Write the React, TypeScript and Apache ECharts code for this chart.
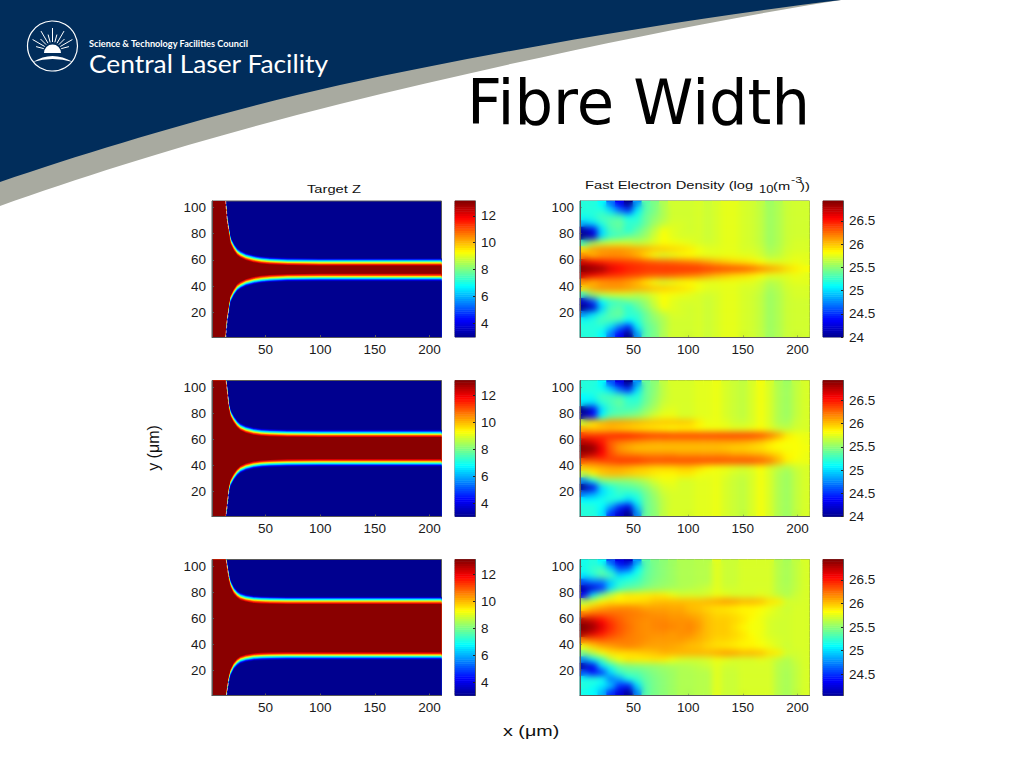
import React, { useEffect, useRef } from "react";
import * as echarts from "echarts";

const JET = ["#00008f", "#0000ff", "#0080ff", "#00ffff", "#80ff80", "#ffff00", "#ff8000", "#ff0000", "#800000"];
const FONT = "Liberation Sans";

// ---- Target Z panels: position of the fibre edge (z = 8 contour) ----
const edgeX = [1, 12.8, 13.5, 14.9, 16.4, 18, 21, 24, 27, 32, 39, 46, 54, 70, 100, 150, 211];
const upperEdge1 = [130, 130, 105, 91, 83, 75, 70, 66.5, 64.6, 62.6, 61, 60, 59.4, 58.8, 58.5, 58.5, 58.5];
const lowerEdge1 = [-25, -25, 0, 14, 22, 30, 35, 38.5, 40.4, 42.4, 44, 45, 45.6, 46.2, 46.5, 46.5, 46.5];
const upperEdge2 = [130, 130, 108, 98, 86, 80, 75.4, 72, 69.7, 67.8, 66.3, 65.5, 65.1, 64.7, 64.5, 64.5, 64.5];
const lowerEdge2 = [-23, -23, -1, 9, 20.6, 26.6, 31.2, 34.6, 36.9, 38.8, 40.3, 41.1, 41.5, 41.9, 42.1, 42.1, 42.1];
const upperEdge3 = [130, 130, 108, 100, 91.8, 86.5, 81.5, 78.7, 76.9, 75.6, 74.6, 74.2, 74, 73.8, 73.8, 73.8, 73.8];
const lowerEdge3 = [-25, -25, -3, 5, 13.2, 18.5, 23.5, 26.3, 28.1, 29.4, 30.4, 30.8, 31, 31.2, 31.2, 31.2, 31.2];
// Z across the edge: level of Z at each distance (µm) from the z = 8 contour
const profileZ = [3.4, 4.2, 5, 5.8, 6.6, 7.4, 8.2, 9, 9.8, 10.6, 11.4, 12.2, 13];
const profileOffset = [2.8, 2.2, 1.7, 1.3, 0.9, 0.4, 0, -0.4, -0.8, -1.2, -1.6, -2.2, -2.8];

// ---- Fast electron density panels (log10), rows from y = 103 down to y = 3 ----
const densityX = [5, 13, 21, 29, 37, 45, 53, 61, 69, 77, 85, 93, 101, 109, 117, 125, 133, 141, 149, 157, 165, 173, 181, 189, 197, 205];
const densityY = [103, 98, 93, 88, 83, 78, 73, 68, 63, 58, 53, 48, 43, 38, 33, 28, 23, 18, 13, 8, 3];
const densityA = [
  [25.2,25.2,25.1,24.7,24.35,24,24.8,25.35,25.45,25.6,25.7,25.7,25.7,25.72,25.68,25.72,25.76,25.76,25.72,25.7,25.65,25.55,25.6,25.68,25.7,25.7],
  [25.2,25.2,25.2,25,24.7,24.5,25.05,25.35,25.45,25.6,25.7,25.7,25.7,25.72,25.68,25.72,25.76,25.76,25.72,25.7,25.65,25.55,25.6,25.68,25.7,25.7],
  [25.15,25.2,25.3,25.3,25.3,25.15,25.2,25.4,25.5,25.6,25.7,25.7,25.7,25.72,25.68,25.72,25.76,25.76,25.72,25.7,25.65,25.55,25.6,25.68,25.7,25.7],
  [24.9,25,25.2,25.35,25.4,25.25,25.25,25.4,25.55,25.65,25.72,25.72,25.7,25.72,25.68,25.72,25.76,25.76,25.72,25.7,25.65,25.55,25.6,25.68,25.7,25.7],
  [24.1,24.3,25,25.3,25.35,25.2,25.35,25.5,25.65,25.8,25.75,25.72,25.7,25.72,25.68,25.72,25.76,25.76,25.72,25.7,25.65,25.55,25.6,25.68,25.7,25.7],
  [24,24.2,25,25.25,25.3,25.4,25.45,25.55,25.7,25.82,25.75,25.72,25.72,25.72,25.68,25.72,25.76,25.76,25.72,25.7,25.65,25.55,25.6,25.68,25.7,25.7],
  [25.3,25.55,25.65,25.7,25.72,25.7,25.65,25.68,25.75,25.82,25.8,25.78,25.75,25.72,25.7,25.72,25.76,25.76,25.72,25.7,25.65,25.55,25.6,25.68,25.72,25.72],
  [25.95,26.1,26.15,26.15,26.15,26.12,26.08,26.05,26,25.98,25.95,25.92,25.88,25.8,25.75,25.75,25.76,25.76,25.72,25.72,25.68,25.58,25.62,25.7,25.72,25.72],
  [26.15,26.05,26.12,26.15,26.15,26.12,26.05,25.92,25.78,25.72,25.76,25.8,25.82,25.78,25.76,25.76,25.78,25.78,25.76,25.75,25.7,25.62,25.65,25.72,25.75,25.75],
  [26.7,26.6,26.5,26.45,26.42,26.4,26.38,26.35,26.32,26.3,26.28,26.25,26.22,26.18,26.12,26.05,26,25.95,25.92,25.88,25.82,25.76,25.75,25.75,25.78,25.75],
  [26.93,26.9,26.85,26.65,26.55,26.48,26.45,26.42,26.42,26.42,26.42,26.42,26.42,26.42,26.4,26.38,26.36,26.35,26.33,26.28,26.2,26.12,26.05,25.95,25.88,25.82],
  [26.7,26.6,26.5,26.45,26.42,26.38,26.36,26.32,26.3,26.3,26.28,26.25,26.22,26.18,26.12,26.05,26,25.95,25.92,25.88,25.82,25.76,25.75,25.75,25.78,25.75],
  [26.15,26.05,26.12,26.15,26.15,26.1,26.02,25.9,25.78,25.72,25.76,25.8,25.82,25.78,25.76,25.76,25.78,25.78,25.76,25.75,25.7,25.62,25.65,25.72,25.75,25.75],
  [25.95,26.1,26.15,26.15,26.15,26.12,26.08,26.05,26,25.98,25.95,25.92,25.88,25.8,25.75,25.75,25.76,25.76,25.72,25.72,25.68,25.58,25.62,25.7,25.72,25.72],
  [25.3,25.55,25.65,25.7,25.72,25.7,25.65,25.68,25.75,25.82,25.8,25.78,25.75,25.72,25.7,25.72,25.76,25.76,25.72,25.7,25.65,25.55,25.6,25.68,25.72,25.72],
  [24.2,24.6,25.1,25.25,25.3,25.4,25.45,25.55,25.7,25.82,25.75,25.72,25.72,25.72,25.68,25.72,25.76,25.76,25.72,25.7,25.65,25.55,25.6,25.68,25.7,25.7],
  [24,24.2,24.95,25.3,25.35,25.2,25.35,25.5,25.65,25.8,25.75,25.72,25.7,25.72,25.68,25.72,25.76,25.76,25.72,25.7,25.65,25.55,25.6,25.68,25.7,25.7],
  [24.8,25,25.2,25.35,25.4,25.25,25.25,25.4,25.55,25.65,25.72,25.72,25.7,25.72,25.68,25.72,25.76,25.76,25.72,25.7,25.65,25.55,25.6,25.68,25.7,25.7],
  [25.15,25.2,25.3,25.3,25.25,25.1,25.2,25.4,25.5,25.6,25.7,25.7,25.7,25.72,25.68,25.72,25.76,25.76,25.72,25.7,25.65,25.55,25.6,25.68,25.7,25.7],
  [25.2,25.2,25.2,25,24.7,24.45,25.05,25.35,25.45,25.6,25.7,25.7,25.7,25.72,25.68,25.72,25.76,25.76,25.72,25.7,25.65,25.55,25.6,25.68,25.7,25.7],
  [25.2,25.2,25.1,24.7,24.35,24,24.8,25.35,25.45,25.6,25.7,25.7,25.7,25.72,25.68,25.72,25.76,25.76,25.72,25.7,25.65,25.55,25.6,25.68,25.7,25.7],
];
const densityB = [
  [25.2,25.2,25.1,24.6,24.3,24,24.8,25.4,25.5,25.65,25.72,25.72,25.72,25.75,25.75,25.78,25.72,25.68,25.65,25.72,25.8,25.72,25.6,25.55,25.65,25.72],
  [25.2,25.2,25.15,25,24.7,24.5,25,25.4,25.5,25.65,25.72,25.72,25.72,25.75,25.75,25.78,25.72,25.68,25.65,25.72,25.8,25.72,25.6,25.55,25.65,25.72],
  [25.1,25.15,25.3,25.3,25.3,25.2,25.2,25.4,25.52,25.65,25.72,25.72,25.72,25.75,25.75,25.78,25.72,25.68,25.65,25.72,25.8,25.72,25.6,25.55,25.65,25.72],
  [25.05,25,25.2,25.3,25.4,25.25,25.25,25.42,25.55,25.68,25.72,25.72,25.72,25.75,25.75,25.78,25.72,25.68,25.65,25.72,25.8,25.72,25.6,25.55,25.65,25.72],
  [24,24.3,25,25.25,25.3,25.3,25.35,25.5,25.6,25.72,25.75,25.72,25.72,25.75,25.75,25.78,25.72,25.68,25.65,25.72,25.8,25.72,25.6,25.55,25.65,25.72],
  [24.1,24.4,25.1,25.35,25.4,25.45,25.5,25.6,25.72,25.78,25.78,25.72,25.72,25.75,25.75,25.78,25.72,25.68,25.65,25.72,25.8,25.72,25.6,25.55,25.65,25.72],
  [25.7,25.9,26.05,26.1,26.1,26.08,26.05,26.02,26,26,26,26,25.98,25.88,25.78,25.78,25.75,25.7,25.68,25.72,25.8,25.72,25.6,25.58,25.68,25.72],
  [26.05,26,26,26.02,25.98,25.95,25.92,25.9,25.88,25.85,25.82,25.85,25.85,25.82,25.8,25.8,25.78,25.75,25.75,25.78,25.82,25.75,25.68,25.65,25.7,25.72],
  [26.4,26.4,26.42,26.45,26.48,26.48,26.45,26.42,26.4,26.4,26.38,26.38,26.38,26.38,26.38,26.38,26.38,26.38,26.38,26.38,26.35,26.25,26.1,25.9,25.8,25.78],
  [26.75,26.65,26.5,26.3,26.22,26.18,26.15,26.12,26.1,26.1,26.1,26.1,26.1,26.1,26.1,26.1,26.1,26.1,26.08,26.05,26,25.92,25.85,25.82,25.82,25.78],
  [26.93,26.9,26.6,26.3,26.12,26.05,26,26,26,26,26,26,26,26,26,26,25.98,25.95,25.95,25.92,25.9,25.85,25.82,25.8,25.82,25.8],
  [26.8,26.7,26.55,26.35,26.25,26.22,26.2,26.18,26.18,26.18,26.18,26.15,26.15,26.15,26.15,26.15,26.15,26.12,26.12,26.1,26.08,26.02,25.95,25.85,25.82,25.78],
  [26.3,26.3,26.35,26.38,26.42,26.42,26.42,26.38,26.36,26.36,26.36,26.36,26.36,26.36,26.36,26.36,26.34,26.34,26.34,26.34,26.3,26.22,26.05,25.88,25.8,25.78],
  [25.98,26.02,26.05,26.08,26.08,26.05,26,25.98,25.95,25.95,25.95,25.98,25.98,25.92,25.85,25.8,25.78,25.75,25.72,25.75,25.82,25.72,25.65,25.6,25.68,25.72],
  [25.65,25.85,25.98,26.02,26.02,25.98,25.95,25.92,25.88,25.85,25.85,25.88,25.88,25.8,25.78,25.78,25.75,25.7,25.68,25.72,25.8,25.72,25.6,25.55,25.65,25.72],
  [24.8,25.15,25.45,25.5,25.5,25.5,25.55,25.62,25.72,25.78,25.78,25.72,25.72,25.75,25.75,25.78,25.72,25.68,25.65,25.72,25.8,25.72,25.6,25.55,25.65,25.72],
  [24,24.3,25,25.2,25.3,25.35,25.4,25.5,25.62,25.72,25.75,25.72,25.72,25.75,25.75,25.78,25.72,25.68,25.65,25.72,25.8,25.72,25.6,25.55,25.65,25.72],
  [24.7,24.8,25,25.15,25.25,25.2,25.25,25.42,25.55,25.68,25.72,25.72,25.72,25.75,25.75,25.78,25.72,25.68,25.65,25.72,25.8,25.72,25.6,25.55,25.65,25.72],
  [25.1,25.1,25.15,25.2,25.15,25,25.15,25.4,25.52,25.65,25.72,25.72,25.72,25.75,25.75,25.78,25.72,25.68,25.65,25.72,25.8,25.72,25.6,25.55,25.65,25.72],
  [25.2,25.2,25.1,24.85,24.5,24.3,24.95,25.4,25.5,25.65,25.72,25.72,25.72,25.75,25.75,25.78,25.72,25.68,25.65,25.72,25.8,25.72,25.6,25.55,25.65,25.72],
  [25.2,25.2,25.05,24.5,24.2,24,24.75,25.4,25.5,25.65,25.72,25.72,25.72,25.75,25.75,25.78,25.72,25.68,25.65,25.72,25.8,25.72,25.6,25.55,25.65,25.72],
];
const densityC = [
  [25.15,25.2,25.1,24.6,24.3,24.2,24.8,25.35,25.45,25.5,25.55,25.6,25.6,25.62,25.62,25.75,25.68,25.68,25.72,25.72,25.72,25.72,25.62,25.58,25.65,25.72],
  [25.15,25.25,25.3,25,24.6,24.65,25.1,25.35,25.45,25.5,25.55,25.6,25.6,25.62,25.62,25.75,25.68,25.68,25.72,25.72,25.72,25.72,25.62,25.58,25.65,25.72],
  [25.05,25.2,25.35,25.3,25,25.1,25.2,25.38,25.45,25.5,25.55,25.6,25.6,25.62,25.62,25.75,25.68,25.68,25.72,25.72,25.72,25.72,25.62,25.58,25.65,25.72],
  [24.6,24.7,24.7,24.95,25.2,25.25,25.3,25.4,25.48,25.52,25.55,25.6,25.6,25.62,25.62,25.75,25.68,25.68,25.72,25.72,25.72,25.72,25.62,25.58,25.65,25.72],
  [24.1,24.25,24.5,25,25.25,25.35,25.4,25.48,25.52,25.55,25.58,25.6,25.62,25.65,25.68,25.75,25.7,25.7,25.72,25.72,25.72,25.72,25.62,25.6,25.65,25.72],
  [24.35,25,25.4,25.65,25.85,25.9,25.88,25.88,25.9,25.88,25.78,25.72,25.72,25.7,25.72,25.78,25.75,25.72,25.72,25.72,25.75,25.72,25.65,25.6,25.68,25.72],
  [25.6,25.72,25.85,25.9,25.88,25.9,25.92,25.95,26,26.02,26.02,26.02,26.02,26.02,26.05,26.08,26.12,26.1,26.05,26.05,26.02,25.92,25.88,25.72,25.7,25.72],
  [25.9,26.02,26.1,26.15,26.18,26.18,26.15,26.1,26.1,26.1,26.08,26.08,26.02,26,25.95,25.92,25.9,25.88,25.85,25.85,25.82,25.78,25.72,25.68,25.72,25.72],
  [26.25,26.3,26.3,26.28,26.25,26.22,26.2,26.18,26.15,26.15,26.12,26.12,26.08,26.05,26,25.95,25.95,25.92,25.88,25.85,25.8,25.75,25.72,25.7,25.72,25.72],
  [26.8,26.7,26.55,26.4,26.3,26.22,26.18,26.15,26.18,26.18,26.15,26.15,26.15,26.1,26.02,25.98,25.98,25.95,25.9,25.82,25.78,25.72,25.7,25.7,25.72,25.72],
  [26.93,26.85,26.65,26.45,26.32,26.25,26.18,26.15,26.18,26.2,26.18,26.15,26.18,26.12,26.02,25.98,25.98,25.92,25.85,25.8,25.8,25.72,25.7,25.7,25.72,25.72],
  [26.8,26.65,26.5,26.38,26.3,26.22,26.18,26.15,26.15,26.15,26.12,26.15,26.15,26.08,26.02,25.98,25.98,25.95,25.9,25.82,25.78,25.72,25.7,25.7,25.72,25.72],
  [26.2,26.25,26.28,26.25,26.22,26.2,26.18,26.15,26.12,26.12,26.12,26.12,26.08,26.05,26,25.95,25.95,25.92,25.88,25.85,25.8,25.75,25.72,25.7,25.72,25.72],
  [25.8,25.95,26.05,26.1,26.15,26.18,26.15,26.1,26.1,26.1,26.08,26.05,26.02,26,25.95,25.92,25.9,25.88,25.85,25.85,25.82,25.78,25.72,25.68,25.72,25.72],
  [25.45,25.65,25.8,25.9,25.92,25.92,25.95,25.98,26,26.05,26.05,26.05,26.05,26.05,26.05,26.08,26.12,26.1,26.05,26.05,26.02,25.92,25.88,25.72,25.7,25.72],
  [24.8,25.05,25.3,25.65,25.8,25.9,25.88,25.88,25.9,25.88,25.78,25.72,25.7,25.7,25.72,25.78,25.75,25.72,25.72,25.72,25.75,25.72,25.65,25.6,25.68,25.72],
  [24.1,24.3,25,25.2,25.4,25.45,25.48,25.5,25.52,25.55,25.58,25.6,25.62,25.65,25.68,25.75,25.7,25.7,25.72,25.72,25.72,25.72,25.62,25.6,25.65,25.72],
  [24.6,24.4,24.5,25,25.25,25.35,25.35,25.42,25.48,25.52,25.55,25.6,25.6,25.62,25.62,25.75,25.68,25.68,25.72,25.72,25.72,25.72,25.62,25.58,25.65,25.72],
  [25.15,25.2,25.15,24.7,24.85,25.15,25.25,25.38,25.45,25.5,25.55,25.6,25.6,25.62,25.62,25.75,25.68,25.68,25.72,25.72,25.72,25.72,25.62,25.58,25.65,25.72],
  [25.2,25.15,25.05,24.95,24.5,24.45,25,25.35,25.45,25.5,25.55,25.6,25.6,25.62,25.62,25.75,25.68,25.68,25.72,25.72,25.72,25.72,25.62,25.58,25.65,25.72],
  [25.15,25.1,24.9,24.5,24.25,24.05,24.75,25.35,25.45,25.5,25.55,25.6,25.6,25.62,25.62,25.75,25.68,25.68,25.72,25.72,25.72,25.72,25.62,25.58,25.65,25.72],
];

// ---- tick labels and scales ----
const xTicks = [50, 100, 150, 200];
const yTicks = [20, 40, 60, 80, 100];
const zBarTicks = [4, 6, 8, 10, 12];
const densityBarTicks = [24, 24.5, 25, 25.5, 26, 26.5];
const densityBarTicksLow = [24.5, 25, 25.5, 26, 26.5];
const Z_RANGE = [3, 13.1];
const DENSITY_RANGE = [24, 26.93];
const DENSITY_RANGE_LOW = [24.05, 26.93];
const BAR_STEPS = 64;

const ROW_TOPS = [201, 380.5, 559.5];
const PLOT_H = 136;

function hexRgb(h: string) {
  return [1, 3, 5].map((i) => parseInt(h.slice(i, i + 2), 16));
}
function jetColor(t: number) {
  const stops = [0, 0.125, 0.25, 0.375, 0.5, 0.625, 0.75, 0.875, 1];
  const c = Math.max(0, Math.min(1, t));
  let i = 0;
  while (i < stops.length - 2 && c > stops[i + 1]) i++;
  const f = (c - stops[i]) / (stops[i + 1] - stops[i]);
  const a = hexRgb(JET[i]);
  const b = hexRgb(JET[i + 1]);
  return `rgb(${a.map((v, k) => Math.round(v + (b[k] - v) * f)).join(",")})`;
}
const zColor = (z: number) => jetColor((z - Z_RANGE[0]) / (Z_RANGE[1] - Z_RANGE[0]));

function labelStyle(extra: any = {}) {
  return { color: "#1a1a1a", fontFamily: FONT, fontSize: 13.5, ...extra };
}

function buildOption() {
  const grid: any[] = [];
  const xAxis: any[] = [];
  const yAxis: any[] = [];
  const series: any[] = [];
  const barSeriesZ: number[] = [];
  const densitySeries: number[] = [];

  const frame = "#5a5a5a";
  const valueX = (gridIndex: number) => ({
    type: "value", gridIndex, min: 1, max: 211, position: "bottom", z: 6, splitLine: { show: false },
    axisLine: { show: true, lineStyle: { color: frame } },
    axisTick: { show: true, inside: true, length: 2, lineStyle: { color: frame }, customValues: xTicks },
    axisLabel: { margin: 5, ...labelStyle(), customValues: xTicks },
  });
  const valueY = (gridIndex: number) => ({
    type: "value", gridIndex, min: 1, max: 105, position: "left", z: 6, splitLine: { show: false },
    axisLine: { show: true, lineStyle: { color: frame } },
    axisTick: { show: true, inside: true, length: 2, lineStyle: { color: frame }, customValues: yTicks },
    axisLabel: { margin: 6, ...labelStyle(), customValues: yTicks },
  });

  const addColorbar = (left: number, top: number, range: number[], ticks: number[], isZ: boolean) => {
    const g = grid.length;
    grid.push({ left, top, width: 20, height: PLOT_H, show: true, borderColor: frame, borderWidth: 1, backgroundColor: "transparent" });
    const levels = Array.from({ length: BAR_STEPS }, (_, i) => range[0] + ((i + 0.5) / BAR_STEPS) * (range[1] - range[0]));
    const xi = xAxis.length;
    xAxis.push({ type: "category", gridIndex: g, data: ["bar"], show: false });
    const yi = yAxis.length;
    yAxis.push({ type: "category", gridIndex: g, data: levels.map((_, i) => String(i)), show: false });
    yAxis.push({
      type: "value", gridIndex: g, min: range[0], max: range[1], position: "right", z: 6, splitLine: { show: false },
      axisLine: { show: true, lineStyle: { color: frame } },
      axisTick: { show: true, inside: true, length: 2, lineStyle: { color: "#222" }, customValues: ticks },
      axisLabel: { margin: 6, ...labelStyle(), customValues: ticks },
    });
    if (isZ) barSeriesZ.push(series.length); else densitySeries.push(series.length);
    series.push({
      type: "heatmap", xAxisIndex: xi, yAxisIndex: yi, silent: true, progressive: 0,
      data: levels.map((v, i) => [0, i, v]),
    });
  };

  // Left column: Target Z
  const edges = [[upperEdge1, lowerEdge1], [upperEdge2, lowerEdge2], [upperEdge3, lowerEdge3]];
  edges.forEach(([upper, lower], r) => {
    const g = grid.length;
    grid.push({ left: 212, top: ROW_TOPS[r], width: 229.5, height: PLOT_H, show: true, borderColor: frame, borderWidth: 1, backgroundColor: zColor(Z_RANGE[0]) });
    const xi = xAxis.length;
    xAxis.push(valueX(g));
    const yi = yAxis.length;
    yAxis.push(valueY(g));
    const layer = (name: string, edge: number[], off: number, color: string) => {
      series.push({
        type: "line", name, xAxisIndex: xi, yAxisIndex: yi, symbol: "none", silent: true, clip: true,
        lineStyle: { width: 0 }, areaStyle: { color, opacity: 1, origin: "start" },
        data: edgeX.map((x, i) => [x, edge[i] + off]),
      });
    };
    profileZ.forEach((z, k) => layer(`fibre top ${z}`, upper, profileOffset[k], zColor(z)));
    for (let k = profileZ.length - 1; k >= 0; k--) {
      const next = k > 0 ? profileZ[k - 1] : Z_RANGE[0];
      layer(`fibre bottom ${profileZ[k]}`, lower, -profileOffset[k], zColor(next));
    }
    [upper, lower].forEach((edge) => {
      series.push({
        type: "line", name: "edge glint", xAxisIndex: xi, yAxisIndex: yi, symbol: "none", silent: true, clip: true,
        lineStyle: { width: 0.8, color: "#e8bdb6", type: [3, 2] },
        data: edgeX.slice(2, 5).map((x, i) => [x, edge[i + 2]]),
      });
    });
    addColorbar(455, ROW_TOPS[r], Z_RANGE, zBarTicks, true);
  });

  // Right column: fast electron density
  const fields = [densityA, densityB, densityC];
  fields.forEach((rows, r) => {
    const g = grid.length;
    grid.push({ left: 580, top: ROW_TOPS[r], width: 229.5, height: PLOT_H, show: true, borderColor: frame, borderWidth: 1, backgroundColor: "transparent" });
    const xi = xAxis.length;
    xAxis.push({ type: "category", gridIndex: g, data: densityX.map(String), show: false });
    xAxis.push(valueX(g));
    const yi = yAxis.length;
    yAxis.push({ type: "category", gridIndex: g, data: densityY.slice().reverse().map(String), show: false });
    yAxis.push(valueY(g));
    const data: number[][] = [];
    rows.forEach((row, ri) => row.forEach((v, ci) => data.push([ci, rows.length - 1 - ri, v])));
    densitySeries.push(series.length);
    series.push({ type: "heatmap", xAxisIndex: xi, yAxisIndex: yi, silent: true, progressive: 0, data });
    addColorbar(823, ROW_TOPS[r], r === 2 ? DENSITY_RANGE_LOW : DENSITY_RANGE, r === 2 ? densityBarTicksLow : densityBarTicks, false);
  });

  const jetColors = [0, 0.125, 0.25, 0.375, 0.5, 0.625, 0.75, 0.875, 1].map(jetColor);
  const txt = (text: string, x: number, y: number, fontSize: number, sx = 1.4, extra: any = {}) => ({
    type: "text", x, y, scaleX: sx, style: { text, fill: "#111", fontFamily: FONT, fontSize, align: "left", verticalAlign: "middle", ...extra },
  });

  const rays = [-165, -150, -135, -120, -105, -90, -75, -60, -45, -30, -15].map((a) => ({
    type: "line",
    shape: {
      x1: 52.5 + 9 * Math.cos((a * Math.PI) / 180), y1: 51 + 9 * Math.sin((a * Math.PI) / 180),
      x2: 52.5 + (a % 30 === 0 ? 23 : 17) * Math.cos((a * Math.PI) / 180), y2: 51 + (a % 30 === 0 ? 23 : 17) * Math.sin((a * Math.PI) / 180),
    },
    style: { stroke: "#fff", lineWidth: 1 },
  }));

  return {
    animation: false,
    backgroundColor: "#fff",
    grid, xAxis, yAxis, series,
    visualMap: [
      { type: "continuous", show: false, seriesIndex: barSeriesZ, min: Z_RANGE[0], max: Z_RANGE[1], dimension: 2, inRange: { color: jetColors } },
      { type: "continuous", show: false, seriesIndex: densitySeries, min: DENSITY_RANGE[0], max: DENSITY_RANGE[1], dimension: 2, inRange: { color: jetColors } },
    ],
    graphic: [
      { type: "hdrGray", x: 0, y: 0, style: { fill: "#a8aaa0" }, z: -1 },
      { type: "hdrNavy", x: 0, y: 0, style: { fill: "#012d5b" }, z: 0 },
      { type: "circle", shape: { cx: 52.5, cy: 46, r: 25 }, style: { fill: "none", stroke: "#fff", lineWidth: 1.2 } },
      ...rays,
      { type: "logoMark", x: 0, y: 0, style: { fill: "#fff" } },
      { type: "text", x: 89, y: 43.5, style: { text: "Science & Technology Facilities Council", fill: "#fff", fontFamily: "Lato", fontWeight: "bold", fontSize: 9.2, lineHeight: 9, align: "left", verticalAlign: "middle" } },
      { type: "text", x: 89, y: 63.5, scaleX: 1.03, style: { text: "Central Laser Facility", fill: "#fff", fontFamily: "Lato", fontSize: 25.6, lineHeight: 20, align: "left", verticalAlign: "middle" } },
      { type: "text", x: 467, y: 103, scaleX: 0.965, style: { text: "Fibre Width", fill: "#000", fontFamily: "DejaVu Sans", fontSize: 63, align: "left", verticalAlign: "middle" } },
      txt("Target Z", 307, 189, 10.5),
      txt("Fast Electron Density (log", 585, 185, 10.5),
      txt("10", 759, 190, 10, 1.3),
      txt("(m", 773, 186, 10.5),
      txt("-3", 791, 180, 9),
      txt("))", 800, 186, 10.5),
      { type: "text", x: 153, y: 448, rotation: Math.PI / 2, style: { text: "y (μm)", fill: "#111", fontFamily: FONT, fontSize: 16, align: "center", verticalAlign: "middle" } },
      txt("x (μm)", 503, 731, 14.5, 1.36),
    ],
  };
}

echarts.graphic.registerShape("hdrNavy", echarts.graphic.extendPath("M0 0H841C700 17 510 48 340 85C220 112 100 148 0 182Z", {}));
echarts.graphic.registerShape("hdrGray", echarts.graphic.extendPath("M0 0H841C700 22 510 62 340 104C220 134 100 170 0 206Z", {}));
echarts.graphic.registerShape("logoMark", echarts.graphic.extendPath("M44 53A8.5 8.5 0 0 1 61 53Z M33 62Q52 50 73 62Q52 56 33 62Z", {}));

export default function App() {
  const ref = useRef<HTMLDivElement>(null);
  useEffect(() => {
    document.body.style.margin = "0";
    const chart = echarts.init(ref.current!, undefined, { renderer: "svg" });
    chart.setOption(buildOption() as any);
    return () => chart.dispose();
  }, []);
  return (
    <div style={{ position: "relative", width: 1024, height: 768, overflow: "hidden" }}>
      <div ref={ref} style={{ width: 1024, height: 768 }} />
      {ROW_TOPS.map((top) => (
        <div key={top} style={{ position: "absolute", left: 581, top: top + 1, width: 228, height: PLOT_H - 1.5, backdropFilter: "blur(3.2px)", pointerEvents: "none" }} />
      ))}
      {ROW_TOPS.map((top) => (
        <div key={"z" + top} style={{ position: "absolute", left: 213, top: top + 1, width: 228, height: PLOT_H - 1.5, backdropFilter: "blur(0.5px)", pointerEvents: "none" }} />
      ))}
    </div>
  );
}
